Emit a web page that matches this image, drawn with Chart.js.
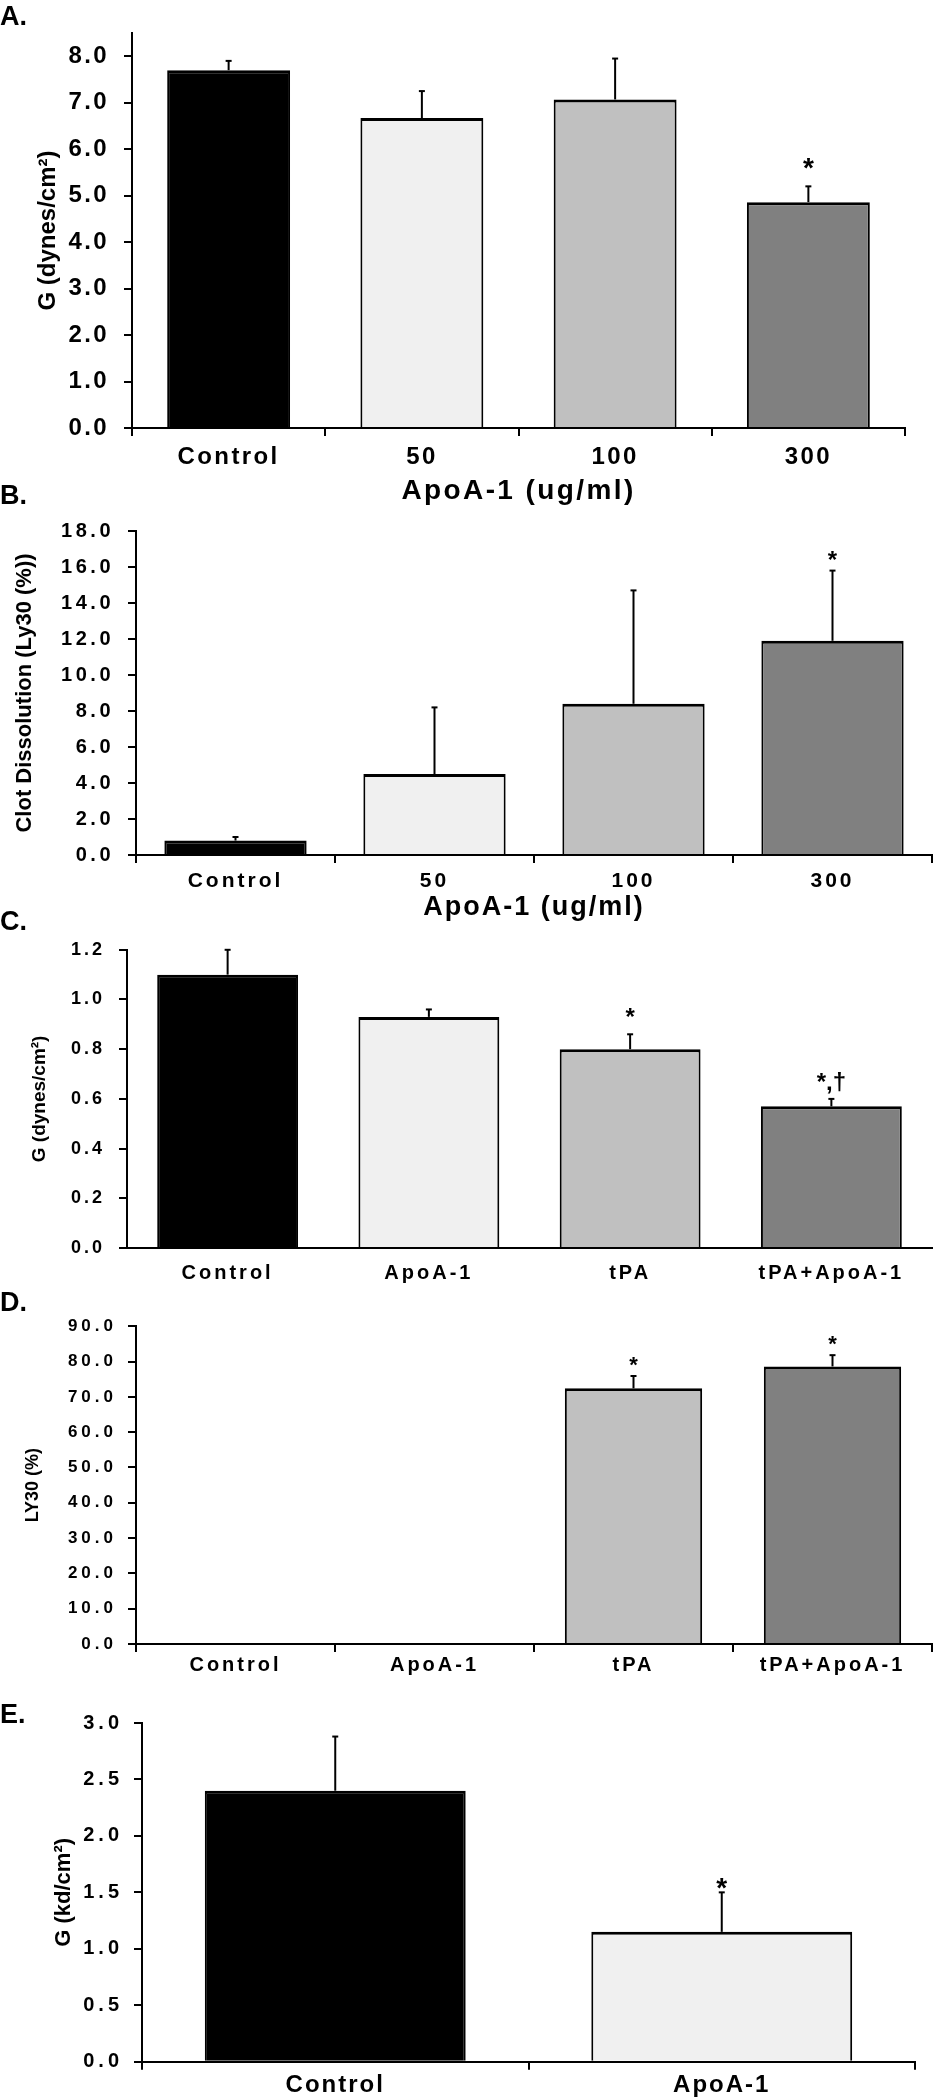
<!DOCTYPE html>
<html lang="en">
<head>
<meta charset="utf-8">
<title>ApoA-1</title>
<script src="https://cdn.jsdelivr.net/npm/chart.js@4.4.1/dist/chart.umd.min.js"></script>
<style>
  html, body { margin: 0; padding: 0; background: #fff; }
  body { width: 934px; height: 2100px; position: relative; overflow: hidden; font-family: 'Liberation Sans', Arial, sans-serif; }
  .painel { position: absolute; left: 0; width: 934px; }
  .letra { position: absolute; left: 0; font-weight: bold; font-size: 27px; line-height: 1; color: #000; }
</style>
</head>
<body>
<div class="painel" style="top:0px;height:520px"><canvas id="graficoA"></canvas></div>
<div class="painel" style="top:505px;height:420px"><canvas id="graficoB"></canvas></div>
<div class="painel" style="top:925px;height:370px"><canvas id="graficoC"></canvas></div>
<div class="painel" style="top:1305px;height:380px"><canvas id="graficoD"></canvas></div>
<div class="painel" style="top:1700px;height:400px"><canvas id="graficoE"></canvas></div>

<div class="letra" style="top:3px">A.</div>
<div class="letra" style="top:482px">B.</div>
<div class="letra" style="top:908px">C.</div>
<div class="letra" style="top:1289px">D.</div>
<div class="letra" style="top:1701px">E.</div>

<script>
// Painel A - G (dynes/cm2) por dose de ApoA-1
const categoriasDose = ['Control', '50', '100', '300'];
const valoresA = [7.7, 6.67, 7.07, 4.86];
const errosA = [0.2, 0.58, 0.88, 0.34];
const marcasA = ['', '', '', '*'];
const ticksA = [0, 1, 2, 3, 4, 5, 6, 7, 8];

// Painel B - dissolução do coágulo (Ly30)
const valoresB = [0.8, 4.5, 8.4, 11.9];
const errosB = [0.2, 3.7, 6.3, 3.9];
const marcasB = ['', '', '', '*'];
const ticksB = [0, 2, 4, 6, 8, 10, 12, 14, 16, 18];

// Painel C - G com tPA
const categoriasTpa = ['Control', 'ApoA-1', 'tPA', 'tPA+ApoA-1'];
const valoresC = [1.1, 0.93, 0.8, 0.57];
const errosC = [0.1, 0.03, 0.06, 0.03];
const marcasC = ['', '', '*', '*,†'];
const ticksC = [0, 0.2, 0.4, 0.6, 0.8, 1.0, 1.2];

// Painel D - LY30 com tPA
const valoresD = [0, 0, 72.4, 78.6];
const errosD = [0, 0, 3.5, 3.2];
const marcasD = ['', '', '*', '*'];
const ticksD = [0, 10, 20, 30, 40, 50, 60, 70, 80, 90];

// Painel E - G (kd/cm2)
const categoriasE = ['Control', 'ApoA-1'];
const valoresE = [2.4, 1.15];
const errosE = [0.48, 0.35];
const marcasE = ['', '*'];
const ticksE = [0, 0.5, 1.0, 1.5, 2.0, 2.5, 3.0];

const coresQuatro = ['#000000', '#f0f0f0', '#c0c0c0', '#808080'];
const coresDuas = ['#000000', '#f0f0f0'];
const fonte = "'Liberation Sans', Arial, Helvetica, sans-serif";

// Espaçamento entre letras para imitar o texto esticado da figura
// (só nos rótulos e títulos horizontais)
function criarEspacamento(estilo) {
    return {
        id: 'espacamento',
        beforeDraw(chart) {
            const pares = [
                ['x', 'drawLabels', estilo.espX],
                ['y', 'drawLabels', estilo.espY],
                ['x', 'drawTitle', estilo.tituloX ? estilo.tituloX.esp : 0]
            ];
            pares.forEach(([id, metodo, esp]) => {
                const escala = chart.scales[id];
                if (!esp || !escala || escala['_esp_' + metodo]) return;
                const original = escala[metodo];
                escala[metodo] = function (...args) {
                    this.ctx.save();
                    this.ctx.letterSpacing = esp + 'px';
                    original.apply(this, args);
                    this.ctx.restore();
                };
                escala['_esp_' + metodo] = true;
            });
        }
    };
}

// Barras de erro (só para cima) e marcas de significância
function criarBarrasErro(dados, estilo) {
    return {
        id: 'barrasErro',
        afterDatasetsDraw(chart) {
            const ctx = chart.ctx;
            const escalaY = chart.scales.y;
            const meta = chart.getDatasetMeta(0);
            ctx.save();
            ctx.strokeStyle = '#000';
            ctx.fillStyle = '#000';
            ctx.lineWidth = 2;
            meta.data.forEach((barra, i) => {
                const valor = dados.valores[i];
                const erro = dados.erros[i];
                const yBarra = escalaY.getPixelForValue(valor);
                const yTopo = escalaY.getPixelForValue(valor + erro);
                if (erro > 0) {
                    ctx.beginPath();
                    ctx.moveTo(barra.x, yBarra);
                    ctx.lineTo(barra.x, yTopo);
                    ctx.stroke();
                    ctx.beginPath();
                    ctx.moveTo(barra.x - 3, yTopo);
                    ctx.lineTo(barra.x + 3, yTopo);
                    ctx.stroke();
                }
                const marca = dados.marcas[i];
                if (marca) {
                    ctx.font = 'bold ' + estilo.fonteMarca + 'px ' + fonte;
                    ctx.textAlign = 'center';
                    ctx.textBaseline = 'alphabetic';
                    ctx.fillText(marca, barra.x, yTopo - estilo.distMarca + 0.55 * estilo.fonteMarca);
                }
            });
            ctx.restore();
        }
    };
}

function criarGrafico(idCanvas, dados, estilo) {
    const ctx = document.getElementById(idCanvas).getContext('2d');
    const eixo = { display: true, color: '#000', width: 2 };

    return new Chart(ctx, {
        type: 'bar',
        data: {
            labels: dados.categorias,
            datasets: [{
                data: dados.valores,
                backgroundColor: dados.cores,
                borderColor: '#000',
                borderWidth: { top: 3, left: 2, right: 2, bottom: 0 },
                borderSkipped: 'bottom',
                barPercentage: estilo.larguraBarra,
                categoryPercentage: 1
            }]
        },
        options: {
            responsive: true,
            maintainAspectRatio: false,
            animation: false,
            events: [],
            layout: {
                padding: { left: 0, right: estilo.direita, top: estilo.topo, bottom: 0 }
            },
            plugins: {
                legend: { display: false },
                tooltip: { enabled: false }
            },
            scales: {
                x: {
                    grid: {
                        display: true,
                        offset: true,
                        drawOnChartArea: false,
                        drawTicks: estilo.marcasX,
                        tickLength: 8,
                        color: '#000',
                        lineWidth: 2
                    },
                    border: eixo,
                    ticks: {
                        color: '#000',
                        font: { family: fonte, size: estilo.fonteX, weight: 'bold' },
                        padding: estilo.padX,
                        maxRotation: 0,
                        autoSkip: false
                    },
                    title: estilo.tituloX ? {
                        display: true,
                        text: estilo.tituloX.texto,
                        color: '#000',
                        font: { family: fonte, size: estilo.tituloX.tamanho, weight: 'bold' },
                        padding: { top: 0, bottom: estilo.tituloX.pad }
                    } : { display: false },
                    afterFit: (escala) => { escala.height = estilo.alturaX; }
                },
                y: {
                    min: 0,
                    max: dados.maxY,
                    afterBuildTicks: (escala) => {
                        escala.ticks = dados.ticks.map(v => ({ value: v }));
                    },
                    grid: {
                        display: true,
                        drawOnChartArea: false,
                        drawTicks: true,
                        tickLength: 8,
                        color: '#000',
                        lineWidth: 2
                    },
                    border: eixo,
                    ticks: {
                        color: '#000',
                        font: { family: fonte, size: estilo.fonteY, weight: 'bold' },
                        padding: estilo.padY,
                        autoSkip: false,
                        callback: (valor) => Number(valor).toFixed(1)
                    },
                    title: {
                        display: true,
                        text: estilo.tituloY.texto,
                        color: '#000',
                        font: { family: fonte, size: estilo.tituloY.tamanho, weight: 'bold' },
                        padding: { top: estilo.tituloY.pad, bottom: 0 }
                    },
                    afterFit: (escala) => { escala.width = estilo.esquerda; }
                }
            }
        },
        plugins: [criarEspacamento(estilo), criarBarrasErro(dados, estilo)]
    });
}

criarGrafico('graficoA',
    { categorias: categoriasDose, valores: valoresA, erros: errosA, marcas: marcasA, ticks: ticksA, maxY: 8.5, cores: coresQuatro },
    {
        esquerda: 132, direita: 29, topo: 33, alturaX: 92, larguraBarra: 0.636,
        fonteY: 24, espY: 2.4, padY: 15,
        fonteX: 24, espX: 2.4, padX: 7, marcasX: true,
        tituloY: { texto: 'G (dynes/cm²)', tamanho: 24, pad: 34 },
        tituloX: { texto: 'ApoA-1 (ug/ml)', tamanho: 28, esp: 2.4, pad: 12 },
        fonteMarca: 28, distMarca: 25
    });

criarGrafico('graficoB',
    { categorias: categoriasDose, valores: valoresB, erros: errosB, marcas: marcasB, ticks: ticksB, maxY: 18, cores: coresQuatro },
    {
        esquerda: 136, direita: 2, topo: 17, alturaX: 70, larguraBarra: 0.715,
        fonteY: 20, espY: 3.5, padY: 14,
        fonteX: 21, espX: 3, padX: 6, marcasX: true,
        tituloY: { texto: 'Clot Dissolution (Ly30 (%))', tamanho: 22, pad: 12 },
        tituloX: { texto: 'ApoA-1 (ug/ml)', tamanho: 27, esp: 2, pad: 1 },
        fonteMarca: 24, distMarca: 16
    });

criarGrafico('graficoC',
    { categorias: categoriasTpa, valores: valoresC, erros: errosC, marcas: marcasC, ticks: ticksC, maxY: 1.2, cores: coresQuatro },
    {
        esquerda: 127, direita: 2, topo: 10, alturaX: 47, larguraBarra: 0.70,
        fonteY: 18, espY: 3, padY: 14,
        fonteX: 20, espX: 3, padX: 13, marcasX: false,
        tituloY: { texto: 'G (dynes/cm²)', tamanho: 19, pad: 28 },
        tituloX: null,
        fonteMarca: 24, distMarca: 22
    });

criarGrafico('graficoD',
    { categorias: categoriasTpa, valores: valoresD, erros: errosD, marcas: marcasD, ticks: ticksD, maxY: 90, cores: coresQuatro },
    {
        esquerda: 136, direita: 2, topo: 17.7, alturaX: 41, larguraBarra: 0.69,
        fonteY: 17, espY: 4, padY: 11,
        fonteX: 20, espX: 3, padX: 1, marcasX: true,
        tituloY: { texto: 'LY30 (%)', tamanho: 18, pad: 22 },
        tituloX: null,
        fonteMarca: 22, distMarca: 16
    });

criarGrafico('graficoE',
    { categorias: categoriasE, valores: valoresE, erros: errosE, marcas: marcasE, ticks: ticksE, maxY: 3, cores: coresDuas },
    {
        esquerda: 142, direita: 19, topo: 11.7, alturaX: 38.3, larguraBarra: 0.675,
        fonteY: 20, espY: 4, padY: 11,
        fonteX: 24, espX: 2, padX: 1, marcasX: true,
        tituloY: { texto: 'G (kd/cm²)', tamanho: 22, pad: 51 },
        tituloX: null,
        fonteMarca: 28, distMarca: 11
    });
</script>
</body>
</html>
